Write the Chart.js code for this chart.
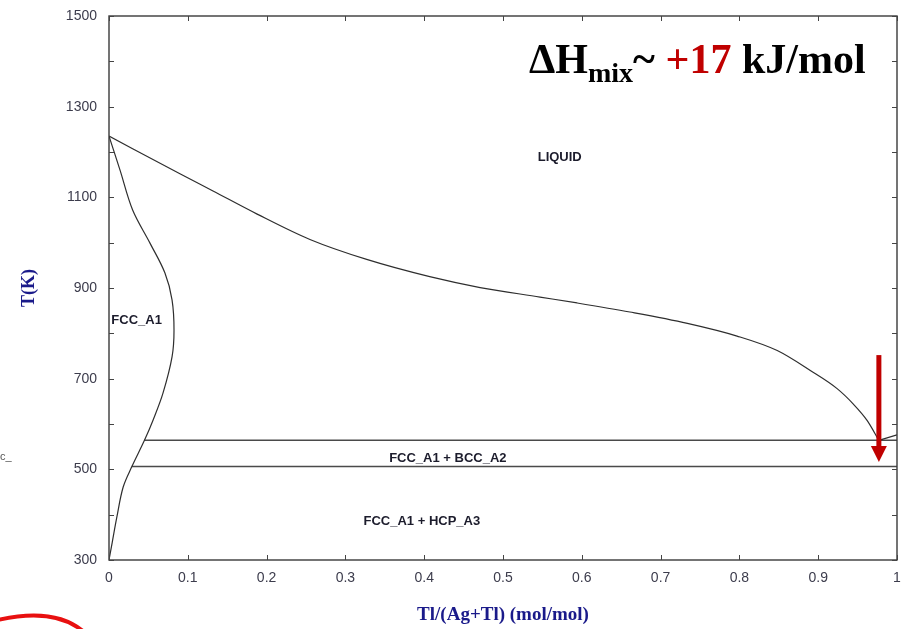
<!DOCTYPE html>
<html>
<head>
<meta charset="utf-8">
<script src="https://cdn.jsdelivr.net/npm/chart.js@4.4.1/dist/chart.umd.min.js"></script>
<style>
  html, body { margin: 0; padding: 0; background: #ffffff; }
  #wrap { width: 905px; height: 629px; position: relative; }
</style>
</head>
<body>
<div id="wrap"><canvas id="c" width="905" height="629"></canvas></div>
<script>
// ---- Data ----
// Liquidus from pure Ag to the eutectic point
const liquidusX = [0, 0.090, 0.132, 0.188, 0.255, 0.327, 0.407, 0.471, 0.547, 0.594, 0.661, 0.734, 0.797, 0.848, 0.890, 0.924, 0.944, 0.962, 0.977];
const liquidusT = [1235, 1152, 1114, 1063, 1007, 963, 925, 901, 880, 867, 847, 822, 794, 762, 718, 678, 645, 608, 564];
// Tl-side liquidus
const tlLiquidusX = [0.977, 1];
const tlLiquidusT = [564, 576];
// FCC_A1 solidus / solvus boundary (listed from low to high temperature)
const solvusX = [0, 0.004, 0.010, 0.018, 0.029, 0.045, 0.056, 0.0685, 0.080, 0.0825, 0.080, 0.071, 0.052, 0.030, 0.014, 0];
const solvusT = [300, 338, 395, 461, 506, 564, 609, 668, 748, 807, 874, 933, 999, 1072, 1160, 1235];
// Invariant lines
const eutecticX = [0.045, 1];
const eutecticT = [564, 564];
const eutectoidX = [0.029, 1];
const eutectoidT = [506, 506];
// Phase-region labels
const regionNames = ['LIQUID', 'FCC_A1', 'FCC_A1 + BCC_A2', 'FCC_A1 + HCP_A3'];
const regionX = [0.572, 0.003, 0.430, 0.397];
const regionT = [1189, 829, 523, 386];
const regionAlign = ['center', 'left', 'center', 'center'];
// Red arrow (x position, start T, end T)
const arrowX = 0.977;
const arrowT = [752, 516];
// Ticks
const xTickLabels = ['0', '0.1', '0.2', '0.3', '0.4', '0.5', '0.6', '0.7', '0.8', '0.9', '1'];
const yTickLabels = ['300', '500', '700', '900', '1100', '1300', '1500'];

const pts = (xs, ys) => xs.map((v, i) => ({ x: v, y: ys[i] }));

const lineDs = (data, color, width, extra) => Object.assign({
  data, showLine: true, borderColor: color, borderWidth: width,
  pointRadius: 0, tension: 0, fill: false
}, extra || {});

const overlay = {
  id: 'overlay',
  afterDatasetsDraw(chart) {
    const { ctx, chartArea: a, scales: { x, y } } = chart;
    ctx.save();
    // frame
    ctx.strokeStyle = '#3a3a3a';
    ctx.lineWidth = 1.4;
    ctx.strokeRect(a.left, a.top, a.right - a.left, a.bottom - a.top);
    // inward ticks on all sides
    ctx.lineWidth = 1;
    ctx.strokeStyle = '#444';
    ctx.beginPath();
    x.ticks.forEach(t => {
      const px = Math.round(x.getPixelForValue(t.value)) + 0.5;
      ctx.moveTo(px, a.bottom); ctx.lineTo(px, a.bottom - 5);
      ctx.moveTo(px, a.top); ctx.lineTo(px, a.top + 5);
    });
    y.ticks.forEach(t => {
      const py = Math.round(y.getPixelForValue(t.value)) + 0.5;
      ctx.moveTo(a.left, py); ctx.lineTo(a.left + 5, py);
      ctx.moveTo(a.right, py); ctx.lineTo(a.right - 5, py);
    });
    ctx.stroke();

    // region labels
    ctx.fillStyle = '#1c1c2c';
    ctx.font = 'bold 13px "Liberation Sans", Arial, sans-serif';
    ctx.textBaseline = 'middle';
    regionNames.forEach((n, i) => {
      ctx.textAlign = regionAlign[i];
      ctx.fillText(n, x.getPixelForValue(regionX[i]), y.getPixelForValue(regionT[i]));
    });

    // red arrow
    const ax = x.getPixelForValue(arrowX);
    const ay0 = y.getPixelForValue(arrowT[0]);
    const ay1 = y.getPixelForValue(arrowT[1]);
    ctx.fillStyle = '#c00000';
    ctx.fillRect(ax - 2.5, ay0, 5, (ay1 - 16) - ay0 + 1);
    ctx.beginPath();
    ctx.moveTo(ax - 8, ay1 - 16);
    ctx.lineTo(ax + 8, ay1 - 16);
    ctx.lineTo(ax, ay1);
    ctx.closePath();
    ctx.fill();

    // big annotation: ΔHmix ~ +17 kJ/mol
    ctx.textAlign = 'left';
    ctx.textBaseline = 'alphabetic';
    const big = 'bold 42px "Liberation Serif", "Times New Roman", serif';
    const sub = 'bold 28px "Liberation Serif", "Times New Roman", serif';
    let tx = 529, base = 73;
    const seg = (txt, font, color, dy) => {
      ctx.font = font; ctx.fillStyle = color;
      ctx.fillText(txt, tx, base + dy);
      tx += ctx.measureText(txt).width;
    };
    seg('\u0394H', big, '#000', 0);
    seg('mix', sub, '#000', 9);
    seg('~ ', big, '#000', 0);
    seg('+17', big, '#c00000', 0);
    seg(' kJ/mol', big, '#000', 0);

    // slide remnants
    ctx.font = '11px "Liberation Sans", Arial, sans-serif';
    ctx.fillStyle = '#555';
    ctx.fillText('c_', 0, 460);
    ctx.strokeStyle = '#e81010';
    ctx.lineWidth = 4;
    ctx.beginPath();
    ctx.moveTo(-2, 620);
    ctx.quadraticCurveTo(55, 607, 84, 632);
    ctx.stroke();
    ctx.restore();
  }
};

new Chart(document.getElementById('c'), {
  type: 'scatter',
  data: {
    datasets: [
      lineDs(pts(liquidusX, liquidusT), '#2e2e2e', 1.2, { cubicInterpolationMode: 'monotone' }),
      lineDs(pts(tlLiquidusX, tlLiquidusT), '#2e2e2e', 1.2),
      lineDs(pts(solvusX, solvusT), '#2e2e2e', 1.2, { tension: 0.35 }),
      lineDs(pts(eutecticX, eutecticT), '#4a4a4a', 1.5),
      lineDs(pts(eutectoidX, eutectoidT), '#4a4a4a', 1.5)
    ]
  },
  options: {
    responsive: false,
    animation: false,
    layout: { padding: { left: 0, top: 16, right: 8, bottom: 0 } },
    plugins: { legend: { display: false }, tooltip: { enabled: false } },
    scales: {
      x: {
        type: 'linear', min: 0, max: 1,
        afterFit: s => { s.height = 69; s.paddingLeft = 0; s.paddingRight = 0; },
        grid: { display: false, drawTicks: false },
        border: { display: false },
        ticks: {
          stepSize: 0.1, padding: 10, maxRotation: 0, autoSkip: false,
          color: '#3c3c4c',
          font: { family: '"Liberation Sans", Arial, sans-serif', size: 14 },
          callback: (v, i) => xTickLabels[i]
        },
        title: {
          display: true, text: 'Tl/(Ag+Tl) (mol/mol)', color: '#1a1a8a',
          font: { family: '"Liberation Serif", "Times New Roman", serif', size: 19, weight: 'bold' },
          padding: { top: 0, bottom: 3 }
        }
      },
      y: {
        type: 'linear', min: 300, max: 1500,
        afterFit: s => { s.width = 109; s.paddingTop = 0; s.paddingBottom = 0; },
        grid: { display: false, drawTicks: false },
        border: { display: false },
        ticks: {
          stepSize: 100, padding: 12, autoSkip: false,
          color: '#3c3c4c',
          font: { family: '"Liberation Sans", Arial, sans-serif', size: 14 },
          callback: v => (yTickLabels.includes(String(v)) ? String(v) : '')
        },
        title: {
          display: true, text: 'T(K)', color: '#1a1a8a',
          font: { family: '"Liberation Serif", "Times New Roman", serif', size: 18, weight: 'bold' },
          padding: { top: 19, bottom: 0 }
        }
      }
    }
  },
  plugins: [overlay]
});
</script>
</body>
</html>
